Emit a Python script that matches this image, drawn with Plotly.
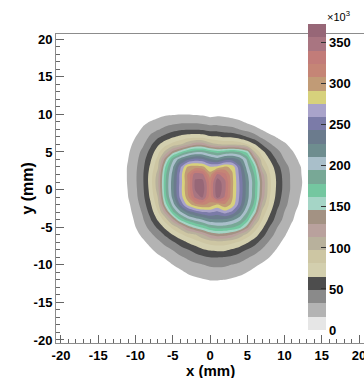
import plotly.graph_objects as go

# ---------------- data ----------------
x_mm = [-13, -12, -11, -10, -9, -8, -7, -6, -5, -4, -3, -2, -1, 0,
        1, 2, 3, 4, 5, 6, 7, 8, 9, 10, 11, 12, 13]
y_mm = [-14, -13, -12, -11, -10, -9, -8, -7, -6, -5, -4, -3, -2, -1,
        0, 1, 2, 3, 4, 5, 6, 7, 8, 9, 10, 11]

# intensity (x10^3) per row, columns follow x_mm
z_ym14 = [0, 0, 0, 0, 0, 0, 0, 0, 0, 0, 0, 0, 0, 0, 0, 0, 0, 0, 0, 0, 0, 0, 0, 0, 0, 0, 0]
z_ym13 = [0, 0, 0, 0, 0, 0, 0, 0, 0, 0, 0, 5, 7, 8, 8, 8, 6, 2, 0, 0, 0, 0, 0, 0, 0, 0, 0]
z_ym12 = [0, 0, 0, 0, 0, 0, 0, 0, 0, 5, 10, 13, 15, 17, 17, 16, 14, 12, 8, 3, 0, 0, 0, 0, 0, 0, 0]
z_ym11 = [0, 0, 0, 0, 0, 0, 0, 2, 8, 13, 18, 21, 24, 25, 25, 25, 23, 20, 16, 11, 5, 0, 0, 0, 0, 0, 0]
z_ym10 = [0, 0, 0, 0, 0, 0, 4, 10, 16, 21, 26, 29, 32, 35, 36, 35, 32, 29, 25, 19, 14, 7, 0, 0, 0, 0, 0]
z_ym9 = [0, 0, 0, 0, 0, 6, 13, 18, 24, 30, 35, 41, 45, 49, 49, 48, 45, 40, 34, 28, 22, 16, 8, 0, 0, 0, 0]
z_ym8 = [0, 0, 0, 0, 6, 14, 21, 27, 33, 41, 48, 55, 63, 67, 69, 68, 63, 56, 48, 40, 31, 23, 15, 7, 0, 0, 0]
z_ym7 = [0, 0, 0, 5, 13, 21, 29, 37, 46, 56, 66, 74, 82, 88, 91, 90, 85, 78, 67, 55, 42, 30, 21, 12, 3, 0, 0]
z_ym6 = [0, 0, 0, 11, 20, 29, 39, 51, 65, 77, 88, 95, 112, 130, 139, 137, 128, 109, 90, 74, 55, 39, 27, 18, 8, 0, 0]
z_ym5 = [0, 0, 5, 16, 26, 38, 52, 69, 86, 105, 134, 153, 166, 181, 187, 186, 180, 168, 135, 91, 69, 48, 33, 23, 13, 4, 0]
z_ym4 = [0, 0, 8, 19, 31, 47, 67, 88, 124, 165, 187, 201, 211, 224, 225, 224, 215, 199, 173, 119, 82, 59, 41, 28, 18, 8, 0]
z_ym3 = [0, 0, 11, 22, 35, 55, 80, 121, 174, 207, 233, 247, 258, 262, 255, 268, 255, 229, 193, 154, 93, 69, 47, 32, 21, 11, 0]
z_ym2 = [0, 2, 13, 25, 40, 62, 90, 154, 201, 244, 282, 302, 310, 305, 290, 305, 287, 250, 210, 172, 110, 77, 54, 37, 25, 15, 5]
z_ym1 = [0, 4, 16, 28, 44, 68, 98, 171, 217, 264, 302, 345, 360, 315, 365, 338, 294, 256, 218, 180, 125, 82, 59, 40, 27, 17, 7]
z_y0 = [0, 5, 17, 29, 46, 71, 106, 176, 221, 267, 308, 358, 368, 320, 372, 345, 295, 258, 219, 181, 129, 85, 61, 43, 29, 19, 9]
z_y1 = [0, 6, 18, 30, 47, 73, 109, 176, 221, 265, 308, 360, 363, 318, 368, 345, 296, 257, 219, 182, 130, 85, 62, 43, 29, 20, 10]
z_y2 = [0, 7, 18, 30, 47, 72, 105, 173, 217, 265, 310, 350, 345, 300, 345, 330, 294, 254, 214, 176, 122, 83, 60, 42, 29, 19, 9]
z_y3 = [0, 6, 18, 29, 45, 68, 95, 162, 208, 255, 295, 300, 297, 278, 282, 295, 288, 247, 202, 165, 101, 76, 55, 39, 27, 18, 9]
z_y4 = [0, 5, 16, 27, 42, 62, 87, 138, 190, 222, 240, 251, 247, 230, 221, 237, 237, 224, 191, 137, 87, 65, 46, 32, 23, 14, 5]
z_y5 = [0, 3, 14, 25, 37, 54, 76, 102, 136, 159, 180, 192, 193, 181, 172, 179, 184, 176, 157, 98, 71, 51, 37, 26, 18, 9, 0]
z_y6 = [0, 0, 11, 21, 30, 45, 62, 76, 87, 96, 111, 125, 125, 108, 99, 96, 97, 93, 82, 66, 48, 35, 26, 19, 11, 3, 0]
z_y7 = [0, 0, 6, 16, 25, 35, 46, 54, 63, 69, 74, 76, 75, 68, 67, 63, 62, 56, 48, 39, 29, 22, 15, 9, 2, 0, 0]
z_y8 = [0, 0, 1, 10, 19, 27, 31, 37, 42, 46, 47, 47, 46, 42, 42, 39, 37, 32, 27, 22, 15, 7, 2, 0, 0, 0, 0]
z_y9 = [0, 0, 0, 4, 12, 17, 21, 25, 27, 29, 29, 29, 27, 25, 25, 24, 22, 19, 13, 8, 2, 0, 0, 0, 0, 0, 0]
z_y10 = [0, 0, 0, 0, 3, 7, 11, 14, 15, 16, 16, 15, 14, 11, 13, 12, 10, 6, 0, 0, 0, 0, 0, 0, 0, 0, 0]
z_y11 = [0, 0, 0, 0, 0, 0, 0, 0, 0, 0, 0, 0, 0, 0, 0, 0, 0, 0, 0, 0, 0, 0, 0, 0, 0, 0, 0]

z_max = 373
band_colors = [
    "#e6e6e6", "#b3b3b3", "#8a8a8a", "#4d4d4d", "#d3cfae", "#cdc6a3",
    "#b8b19c", "#b9a19d", "#a39283", "#a5d5c6", "#74c7a0", "#78a896",
    "#a9bfca", "#6e8d8f", "#6b7b8d", "#7b7ba8", "#a9a3ca", "#d7d17c",
    "#c19b76", "#c58576", "#c27c79", "#a97581", "#976777",
]
cb_tick_values = [0, 50, 100, 150, 200, 250, 300, 350]
cb_tick_labels = ["0", "50", "100", "150", "200", "250", "300", "350"]
x_tick_values = [-20, -15, -10, -5, 0, 5, 10, 15, 20]
x_tick_labels = ["-20", "-15", "-10", "-5", "0", "5", "10", "15", "20"]
y_tick_values = [-20, -15, -10, -5, 0, 5, 10, 15, 20]
y_tick_labels = ["-20", "-15", "-10", "-5", "0", "5", "10", "15", "20"]

# ---------------- figure ----------------
z = [z_ym14, z_ym13, z_ym12, z_ym11, z_ym10, z_ym9, z_ym8, z_ym7, z_ym6,
     z_ym5, z_ym4, z_ym3, z_ym2, z_ym1, z_y0, z_y1, z_y2, z_y3, z_y4,
     z_y5, z_y6, z_y7, z_y8, z_y9, z_y10, z_y11]

n_bands = len(band_colors)
step = z_max / n_bands


def stepped(colors):
    n = len(colors)
    cs = []
    for i, c in enumerate(colors):
        cs.append([i / n, c])
        cs.append([(i + 1) / n, c])
    return cs


fill_colors = ["#ffffff"] + band_colors[1:]
FONT = "Liberation Sans, Arial, Helvetica, sans-serif"

fig = go.Figure()
fig.add_trace(go.Contour(
    x=x_mm, y=y_mm, z=z,
    colorscale=stepped(fill_colors),
    contours=dict(start=step, end=(n_bands - 1) * step + 0.01 * step,
                  size=step, coloring="fill", showlines=False),
    line=dict(width=0, smoothing=0.8),
    showscale=False, hoverinfo="skip",
))
fig.add_trace(go.Scatter(
    x=[-60, -60], y=[-60, -60], mode="markers",
    marker=dict(color=[0, z_max], cmin=0, cmax=z_max,
                colorscale=stepped(band_colors), size=1, opacity=0,
                showscale=True,
                colorbar=dict(
                    thickness=18, thicknessmode="pixels",
                    len=306, lenmode="pixels",
                    x=0.8182, xanchor="left", xpad=0,
                    y=0.0421, yanchor="bottom", ypad=0,
                    outlinewidth=0, borderwidth=0,
                    ticks="inside", ticklen=5, tickwidth=1, tickcolor="#333",
                    tickmode="array", tickvals=cb_tick_values,
                    ticktext=cb_tick_labels,
                    tickfont=dict(family=FONT, size=13, color="black",
                                  weight="bold"),
                )),
    hoverinfo="skip", showlegend=False,
))

axis_common = dict(
    showgrid=False, zeroline=False, showline=True, linecolor="#8c8c8c",
    linewidth=1, mirror=True, ticks="inside", ticklen=8, tickwidth=1,
    tickcolor="#666", tickmode="array", automargin=False,
    ticklabeloverflow="allow",
    tickfont=dict(family=FONT, size=13, color="black", weight="bold"),
)
minor_vals = [v for v in range(-20, 21) if v % 5 != 0]

fig.update_xaxes(range=[-20.67, 20.67], tickvals=x_tick_values,
                 ticktext=x_tick_labels,
                 minor=dict(tickmode="array", tickvals=minor_vals,
                            ticks="inside", ticklen=4, tickcolor="#666"),
                 **axis_common)
fig.update_yaxes(range=[-20.4, 20.68], tickvals=y_tick_values,
                 ticktext=y_tick_labels,
                 minor=dict(tickmode="array", tickvals=minor_vals,
                            ticks="inside", ticklen=4, tickcolor="#666"),
                 **axis_common)

fig.update_layout(
    width=364, height=378,
    margin=dict(l=56, r=0, t=34, b=35, pad=0),
    paper_bgcolor="white", plot_bgcolor="white",
    showlegend=False,
    annotations=[
        dict(text="x (mm)", xref="paper", yref="paper", x=0.5, y=-0.088,
             xanchor="center", yanchor="middle", showarrow=False,
             font=dict(family=FONT, size=15, color="black", weight="bold")),
        dict(text="y (mm)", xref="paper", yref="paper", x=-0.094, y=0.5,
             xanchor="center", yanchor="middle", showarrow=False,
             textangle=-90,
             font=dict(family=FONT, size=16, color="black", weight="bold")),
        dict(text="×10<sup>3</sup>", xref="paper", yref="paper",
             x=0.9156, y=1.058, xanchor="center", yanchor="middle",
             showarrow=False,
             font=dict(family=FONT, size=11, color="black")),
    ],
)

fig.write_html(
    "out.html",
    config={"displayModeBar": False},
    post_script="document.body.style.margin='0px';"
                "document.body.style.padding='0px';"
                "document.body.style.overflow='hidden';",
)
